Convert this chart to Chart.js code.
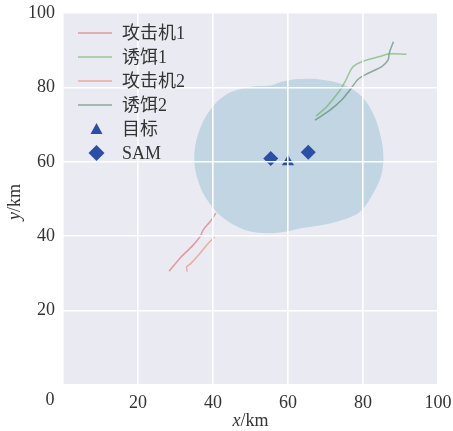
<!DOCTYPE html>
<html>
<head>
<meta charset="utf-8">
<script src="https://cdn.jsdelivr.net/npm/chart.js@4.4.1/dist/chart.umd.min.js"></script>
<style>
  html, body { margin: 0; padding: 0; background: #ffffff; }
  #wrap { width: 453px; height: 431px; }
</style>
</head>
<body>
<div id="wrap"><canvas id="c" width="453" height="431"></canvas></div>
<script>
// Flight tracks (km)
const atk1X = [28.3, 31.2, 34.7, 36.5, 37.4, 39.2, 40.8];
const atk1Y = [30.6, 34.1, 37.6, 39.8, 41.7, 43.9, 46.2];

const decoy1X = [67.5, 70.3, 73.9, 75.2, 77.4, 80.5, 84.5, 86.7, 91.6];
const decoy1Y = [72.3, 74.8, 79.3, 81.5, 85.6, 87.2, 88.3, 89.0, 88.9];

const atk2X = [33.1, 33.0, 33.9, 36.1, 38.3, 40.5];
const atk2Y = [30.5, 31.8, 32.5, 34.9, 37.6, 39.9];

const decoy2X = [67.2, 71.2, 74.3, 76.5, 78.7, 81.4, 85.0, 86.7, 87.0, 88.1];
const decoy2Y = [71.2, 73.9, 76.6, 79.3, 82.2, 83.8, 85.6, 87.4, 89.2, 92.3];

// Target and SAM sites
const targetX = [60.0];
const targetY = [60.0];
const samX = [55.4, 65.4];
const samY = [60.9, 62.6];

// Boundary of the SAM coverage zone
const zoneX = [61.9, 68.1, 75.2, 79.7, 82.7, 84.5, 85.4, 85.0, 83.2, 79.2, 73.0, 66.7, 63.2, 59.2,
               54.7, 48.5, 42.3, 37.9, 35.7, 35.0, 36.1, 39.2, 44.1, 50.3, 55.7, 58.3, 61.9];
const zoneY = [82.2, 82.2, 80.6, 77.5, 73.0, 67.7, 62.3, 56.9, 52.4, 46.6, 43.9, 42.6, 42.1, 41.2,
               40.8, 41.7, 45.2, 50.6, 56.0, 61.4, 67.7, 73.9, 78.4, 80.2, 80.6, 81.5, 82.2];

// Axis ticks
const tickValues = [0, 20, 40, 60, 80, 100];

const pts = (xs, ys) => xs.map((x, i) => ({ x: x, y: ys[i] }));

const SERIF = "'Liberation Serif', 'Times New Roman', 'Noto Sans CJK SC', serif";
const TEXT = '#333333';
const MARK = '#2B4FA9';

const datasets = [
  { label: '攻击机1', data: pts(atk1X, atk1Y), borderColor: 'rgba(222,96,96,0.6)', borderWidth: 1.5,
    pointRadius: 0, tension: 0.3, fill: false, legendKind: 'line' },
  { label: '诱饵1', data: pts(decoy1X, decoy1Y), borderColor: 'rgba(96,176,84,0.6)', borderWidth: 1.5,
    pointRadius: 0, tension: 0.3, fill: false, legendKind: 'line' },
  { label: '攻击机2', data: pts(atk2X, atk2Y), borderColor: 'rgba(240,128,100,0.6)', borderWidth: 1.5,
    pointRadius: 0, tension: 0.3, fill: false, legendKind: 'line' },
  { label: '诱饵2', data: pts(decoy2X, decoy2Y), borderColor: 'rgba(70,120,90,0.58)', borderWidth: 1.5,
    pointRadius: 0, tension: 0.3, fill: false, legendKind: 'line' },
  { label: '目标', data: pts(targetX, targetY), showLine: false, pointStyle: 'triangle',
    pointRadius: 7, pointBackgroundColor: MARK, pointBorderColor: MARK, pointBorderWidth: 0,
    legendKind: 'triangle' },
  { label: 'SAM', data: pts(samX, samY), showLine: false, pointStyle: 'rectRot',
    pointRadius: 7.5, pointBackgroundColor: MARK, pointBorderColor: MARK, pointBorderWidth: 0,
    legendKind: 'diamond' },
  { label: 'zone', data: pts(zoneX, zoneY), borderWidth: 0, borderColor: 'rgba(0,0,0,0)',
    backgroundColor: '#C1D5E3', fill: 'shape', pointRadius: 0, tension: 0.35, order: 10 }
];

// Plot background
const plotBg = {
  id: 'plotBg',
  beforeDraw(chart) {
    const a = chart.chartArea, ctx = chart.ctx;
    ctx.save();
    ctx.fillStyle = '#EAEAF2';
    ctx.fillRect(a.left, a.top, a.right - a.left, a.bottom - a.top);
    ctx.restore();
  }
};

// Legend inside the upper-left corner of the plot
const insideLegend = {
  id: 'insideLegend',
  afterDraw(chart) {
    const ctx = chart.ctx, a = chart.chartArea;
    const lx0 = a.left + 15, lx1 = a.left + 49, mx = a.left + 33.5, tx = a.left + 59;
    let y = a.top + 20;
    const step = 24;
    ctx.save();
    ctx.font = '18px ' + SERIF;
    ctx.textBaseline = 'middle';
    ctx.textAlign = 'left';
    chart.data.datasets.forEach(ds => {
      if (!ds.legendKind) return;
      if (ds.legendKind === 'line') {
        ctx.strokeStyle = ds.borderColor;
        ctx.lineWidth = 1.5;
        ctx.beginPath();
        ctx.moveTo(lx0, y);
        ctx.lineTo(lx1, y);
        ctx.stroke();
      } else if (ds.legendKind === 'triangle') {
        ctx.fillStyle = MARK;
        ctx.beginPath();
        ctx.moveTo(mx, y - 6);
        ctx.lineTo(mx + 6, y + 5);
        ctx.lineTo(mx - 6, y + 5);
        ctx.closePath();
        ctx.fill();
      } else if (ds.legendKind === 'diamond') {
        ctx.fillStyle = MARK;
        ctx.beginPath();
        ctx.moveTo(mx, y - 8);
        ctx.lineTo(mx + 8, y);
        ctx.lineTo(mx, y + 8);
        ctx.lineTo(mx - 8, y);
        ctx.closePath();
        ctx.fill();
      }
      ctx.fillStyle = TEXT;
      ctx.fillText(ds.label, tx, y + 1);
      y += step;
    });
    ctx.restore();
  }
};

// Axis titles with italic variable names, and the shared origin label
const axisTitles = {
  id: 'axisTitles',
  afterDraw(chart) {
    const ctx = chart.ctx, a = chart.chartArea;
    const italic = 'italic 18px ' + SERIF, upright = '18px ' + SERIF;
    ctx.save();
    ctx.fillStyle = TEXT;
    ctx.textBaseline = 'middle';

    // x/km
    ctx.font = italic; const wx = ctx.measureText('x').width;
    ctx.font = upright; const wk = ctx.measureText('/km').width;
    let sx = (a.left + a.right) / 2 - (wx + wk) / 2;
    const ty = a.bottom + 36;
    ctx.textAlign = 'left';
    ctx.font = italic; ctx.fillText('x', sx, ty);
    ctx.font = upright; ctx.fillText('/km', sx + wx, ty);

    // y/km rotated
    ctx.translate(15, (a.top + a.bottom) / 2 + 3);
    ctx.rotate(-Math.PI / 2);
    ctx.font = italic; const wy = ctx.measureText('y').width;
    sx = -(wy + wk) / 2;
    ctx.font = italic; ctx.fillText('y', sx, 0);
    ctx.font = upright; ctx.fillText('/km', sx + wy, 0);
    ctx.setTransform(1, 0, 0, 1, 0, 0);

    // origin
    ctx.font = upright;
    ctx.textAlign = 'center';
    ctx.fillText(String(tickValues[0]), a.left - 13, a.bottom + 15);
    ctx.restore();
  }
};

const tickFont = { family: SERIF, size: 18 };

new Chart(document.getElementById('c'), {
  type: 'line',
  data: { datasets: datasets },
  options: {
    responsive: false,
    animation: false,
    devicePixelRatio: 1,
    layout: { padding: { top: 13, right: 15, left: 0, bottom: 0 } },
    plugins: { legend: { display: false }, tooltip: { enabled: false } },
    scales: {
      x: {
        type: 'linear', min: 0, max: 100,
        afterBuildTicks: s => { s.ticks = tickValues.map(v => ({ value: v })); },
        afterFit: s => { s.height = 46; s.paddingLeft = 0; s.paddingRight = 0; },
        grid: { color: '#FFFFFF', lineWidth: 1.6, drawTicks: false, z: 1 },
        border: { display: false },
        ticks: { font: tickFont, color: TEXT, padding: 7, maxRotation: 0,
                 callback: v => (v === 0 ? '' : String(v)) }
      },
      y: {
        type: 'linear', min: 0, max: 100,
        afterBuildTicks: s => { s.ticks = tickValues.map(v => ({ value: v })); },
        afterFit: s => { s.width = 63; s.paddingTop = 0; s.paddingBottom = 0; },
        grid: { color: '#FFFFFF', lineWidth: 1.6, drawTicks: false, z: 1 },
        border: { display: false },
        ticks: { font: tickFont, color: TEXT, padding: 8,
                 callback: v => (v === 0 ? '' : String(v)) }
      }
    }
  },
  plugins: [plotBg, insideLegend, axisTitles]
});
</script>
</body>
</html>
